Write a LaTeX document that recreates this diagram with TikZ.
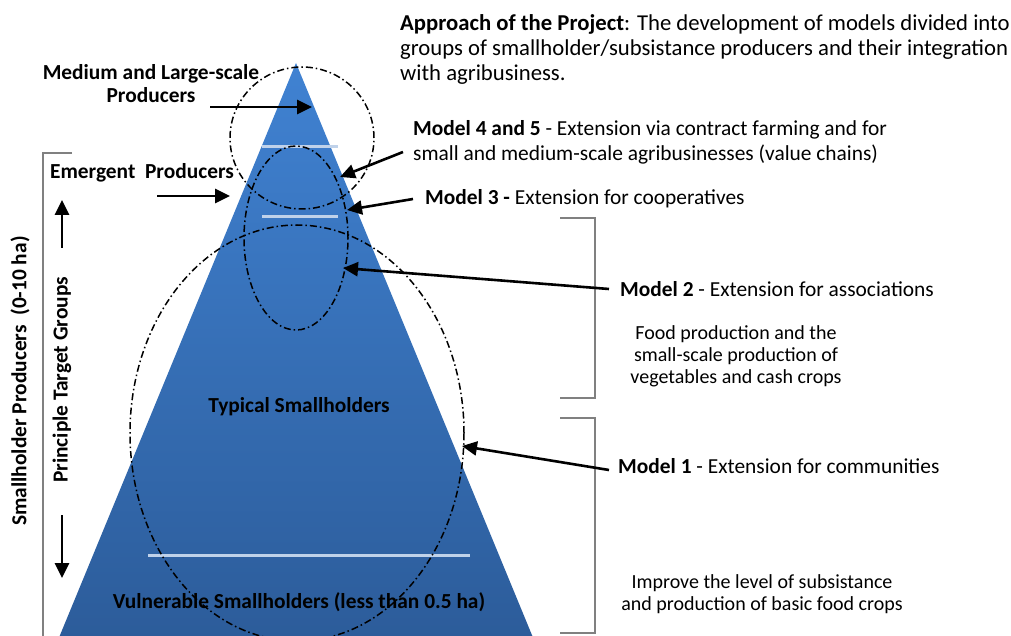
\documentclass[tikz,border=0pt]{standalone}
\usepackage{fontspec}
\setmainfont{Carlito}
\usetikzlibrary{arrows.meta}
\definecolor{pyrtop}{RGB}{64,130,210}
\definecolor{pyrbot}{RGB}{44,92,154}
\definecolor{sepline}{RGB}{192,210,234}
\definecolor{brk}{RGB}{128,128,128}
\begin{document}
\begin{tikzpicture}[x=1pt,y=-1pt,
  lbl/.style={font=\fontsize{21.4}{25}\selectfont, inner sep=0pt},
  toplbl/.style={font=\fontsize{22.7}{25}\selectfont, inner sep=0pt},
  blbl/.style={font=\fontsize{21.4}{23}\selectfont\bfseries, inner sep=0pt},
  slbl/.style={font=\fontsize{20}{22}\selectfont, inner sep=0pt, align=center},
  ptr/.style={line width=2.6pt, -{Triangle[length=15pt,width=14pt]}},
  zone/.style={line width=1.5pt, dash pattern=on 7pt off 3pt on 1.5pt off 3pt},
  sepl/.style={sepline, line width=3pt},
  bracket/.style={brk, line width=2.2pt}]
\useasboundingbox (0,0) rectangle (1011,636);
\begin{scope}
\clip (0,0) rectangle (1011,636);
% pyramid
\shade[top color=pyrtop, bottom color=pyrbot] (296,63) -- (534,640) -- (58,640) -- cycle;
% separators
\draw[sepl] (262,147) -- (338,147);
\draw[sepl] (262,217) -- (338,217);
\draw[sepl] (148,555) -- (470,555);
% zones
\draw[zone] (302,138) ellipse [x radius=72pt, y radius=71pt];
\draw[zone] (296,238) ellipse [x radius=52pt, y radius=92pt];
\draw[zone] (297,433) ellipse [x radius=167pt, y radius=208pt];
% brackets
\draw[bracket] (72,153) -- (43,153) -- (43,640);
\end{scope}
\draw[bracket] (560,218) -- (595,218) -- (595,398) -- (560,398);
\draw[bracket] (560,418) -- (595,418) -- (595,633) -- (560,633);

% texts
\node[toplbl, anchor=west, align=left] (appr) at (400,49)
  {\textbf{Approach of the Project}: The development of models divided into\\
   groups of smallholder/subsistance producers and their integration\\
   with agribusiness.};
\node[blbl, align=center] (mls) at (151,84) {Medium and Large-scale\\Producers};
\node[blbl] (emg) at (142,173) {Emergent\ \ Producers};
\node[lbl, anchor=west, align=left] (m45) at (413,142.5)
  {\textbf{Model 4 and 5} - Extension via contract farming and for\\
   small and medium-scale agribusinesses (value chains)};
\node[lbl, anchor=west] (m3) at (425,199) {\textbf{Model 3 -} Extension for cooperatives};
\node[lbl, anchor=west] (m2) at (620,289) {\textbf{Model 2} - Extension for associations};
\node[slbl] (food) at (736,356) {Food production and the\\small-scale production of\\vegetables and cash crops};
\node[lbl, anchor=west] (m1) at (618,466) {\textbf{Model 1} - Extension for communities};
\node[slbl] (impr) at (762,594) {Improve the level of subsistance\\and production of basic food crops};
\node[blbl] (typ) at (299,407) {Typical Smallholders};
\node[blbl] (vul) at (299,602) {Vulnerable Smallholders (less than 0.5 ha)};
\node[blbl, rotate=90] (shp) at (20,381) {Smallholder Producers\ \ (0-10 ha)};
\node[blbl, rotate=90] (ptg) at (62,380) {Principle Target Groups};

% arrow end points
\coordinate (mlsT) at (210,107);  \coordinate (mlsH) at (312,107);
\coordinate (emgT) at (157,196);  \coordinate (emgH) at (230,196);
\coordinate (m45T) at (403,152);  \coordinate (m45H) at (340,177);
\coordinate (m3T) at (413,199);   \coordinate (m3H) at (347,210);
\coordinate (m2T) at (609,289);   \coordinate (m2H) at (343,268);
\coordinate (m1T) at (609,470);   \coordinate (m1H) at (462,446);
\coordinate (upT) at (62,248);    \coordinate (upH) at (62,200);
\coordinate (dnT) at (62,515);    \coordinate (dnH) at (62,578);

\draw[ptr] (mlsT) -- (mlsH);
\draw[ptr] (emgT) -- (emgH);
\draw[ptr] (m45T) -- (m45H);
\draw[ptr] (m3T) -- (m3H);
\draw[ptr] (m2T) -- (m2H);
\draw[ptr] (m1T) -- (m1H);
\draw[ptr] (upT) -- (upH);
\draw[ptr] (dnT) -- (dnH);
\end{tikzpicture}
\end{document}
